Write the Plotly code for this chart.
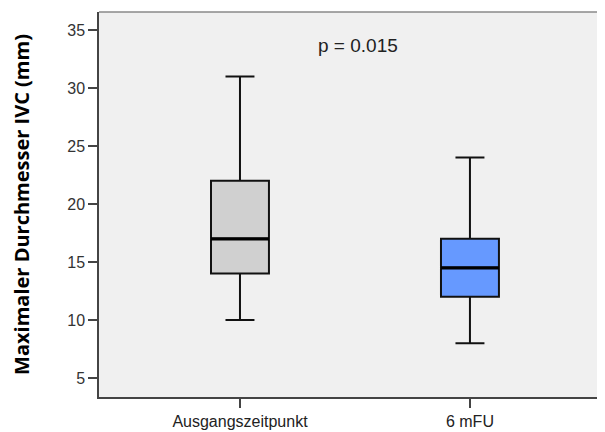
import plotly.graph_objects as go

categories = ["Ausgangszeitpunkt", "6 mFU"]
lower_whisker = [10, 8]
q1 = [14, 12]
median = [17, 14.5]
q3 = [22, 17]
upper_whisker = [31, 24]
fills = ["#d0d0d0", "#6699ff"]
y_ticks = [5, 10, 15, 20, 25, 30, 35]
p_text = "p = 0.015"

box_w = 0.252
fig = go.Figure()
for i, cat in enumerate(categories):
    fig.add_trace(go.Box(
        x=[i], q1=[q1[i]], median=[median[i]], q3=[q3[i]],
        lowerfence=[lower_whisker[i]], upperfence=[upper_whisker[i]],
        width=box_w, whiskerwidth=0.5,
        fillcolor=fills[i], line=dict(color="#111111", width=2),
        showlegend=False, hoverinfo="skip", boxpoints=False,
    ))
    fig.add_trace(go.Scatter(
        x=[i - box_w / 2, i + box_w / 2], y=[median[i], median[i]],
        mode="lines", line=dict(color="#000000", width=3.2),
        showlegend=False, hoverinfo="skip",
    ))

fig.add_annotation(x=0.513, y=33.7, text=p_text, showarrow=False,
                   font=dict(family="Liberation Sans, Arial", size=19, color="#222222"))

fig.add_shape(type="line", xref="paper", yref="paper", x0=0, x1=1, y0=1, y1=1,
              line=dict(color="#8a8a8a", width=1.5))

fig.update_layout(
    width=605, height=432,
    margin=dict(l=91, r=0, t=4, b=43),
    paper_bgcolor="white", plot_bgcolor="#f0f0f0",
    xaxis=dict(range=[-0.613, 1.622], tickvals=[0, 1], ticktext=categories,
               showgrid=False, zeroline=False, showline=True, linecolor="#444444", linewidth=1.5,
               ticks="outside", ticklen=9, tickcolor="#444444", tickwidth=1.5,
               tickfont=dict(family="Liberation Sans, Arial", size=16, color="#222222")),
    yaxis=dict(range=[3.36, 36.55], tickvals=y_ticks, automargin=False,
               showgrid=False, zeroline=False, showline=True, linecolor="#444444", linewidth=1.5,
               ticks="outside", ticklen=9, tickcolor="#444444", tickwidth=1.5,
               tickfont=dict(family="Liberation Sans, Arial", size=16, color="#333333"),
               title=dict(text="<b>Maximaler Durchmesser IVC (mm)</b>", standoff=36,
                          font=dict(family="Open Sans", size=20, color="#000000"))),
)
fig.write_html("out.html")
